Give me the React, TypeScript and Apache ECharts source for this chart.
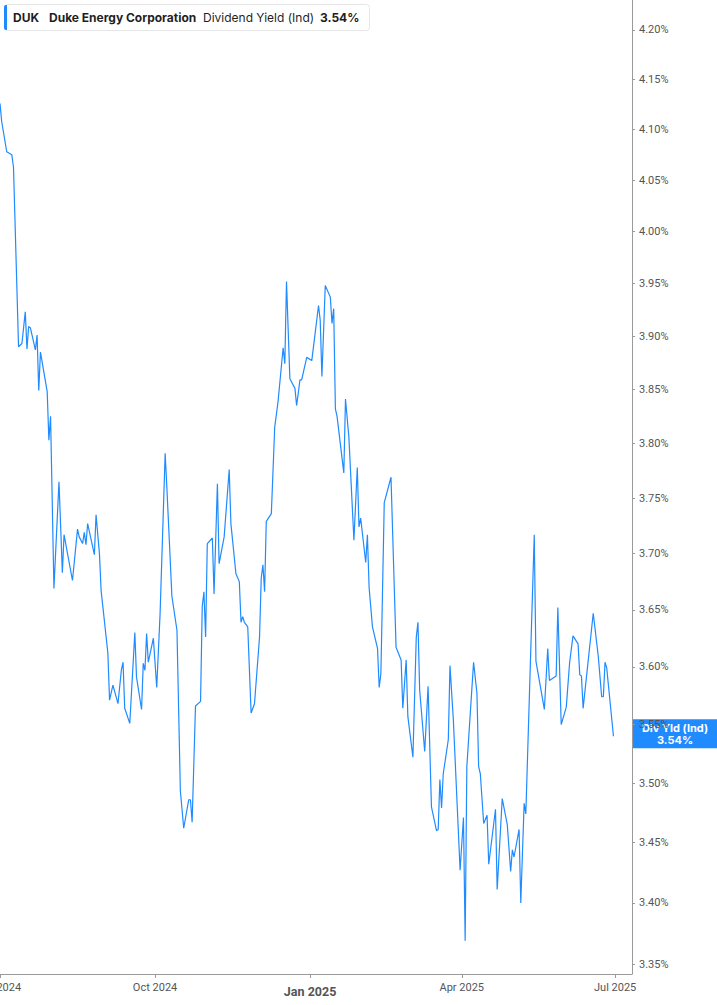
import React, { useEffect, useRef } from "react";
import * as echarts from "echarts";

const dates: string[] = [
  "2024-07-01","2024-07-02","2024-07-05","2024-07-08","2024-07-09","2024-07-12","2024-07-14","2024-07-16","2024-07-17","2024-07-18","2024-07-19","2024-07-22","2024-07-23","2024-07-24","2024-07-25","2024-07-29","2024-07-30","2024-07-31",
  "2024-08-02","2024-08-05","2024-08-07","2024-08-08","2024-08-13","2024-08-16","2024-08-17","2024-08-19","2024-08-20","2024-08-21","2024-08-22","2024-08-26","2024-08-27","2024-08-29","2024-08-30",
  "2024-09-03","2024-09-04","2024-09-06","2024-09-09","2024-09-11","2024-09-12","2024-09-13","2024-09-16","2024-09-19","2024-09-20","2024-09-23","2024-09-24","2024-09-25","2024-09-26","2024-09-27","2024-09-30",
  "2024-10-02","2024-10-04","2024-10-07","2024-10-08","2024-10-11","2024-10-14","2024-10-16","2024-10-18","2024-10-21","2024-10-22","2024-10-23","2024-10-25","2024-10-28","2024-10-29","2024-10-30","2024-10-31",
  "2024-11-01","2024-11-04","2024-11-05","2024-11-07","2024-11-08","2024-11-11","2024-11-14","2024-11-15","2024-11-18","2024-11-20","2024-11-21","2024-11-22","2024-11-23","2024-11-25","2024-11-27","2024-11-29",
  "2024-12-02","2024-12-03","2024-12-04","2024-12-05","2024-12-06","2024-12-09","2024-12-11","2024-12-13","2024-12-16","2024-12-17","2024-12-18","2024-12-20","2024-12-23","2024-12-24","2024-12-26","2024-12-27","2024-12-30",
  "2025-01-02","2025-01-06","2025-01-07","2025-01-08","2025-01-10","2025-01-13","2025-01-14","2025-01-15","2025-01-16","2025-01-17","2025-01-21","2025-01-22","2025-01-24","2025-01-27","2025-01-29","2025-01-30","2025-01-31",
  "2025-02-03","2025-02-04","2025-02-05","2025-02-07","2025-02-10","2025-02-11","2025-02-12","2025-02-14","2025-02-18","2025-02-21","2025-02-24","2025-02-25","2025-02-27","2025-02-28",
  "2025-03-03","2025-03-05","2025-03-06","2025-03-07","2025-03-10","2025-03-12","2025-03-14","2025-03-17","2025-03-18","2025-03-19","2025-03-20","2025-03-21","2025-03-24","2025-03-25","2025-03-27","2025-03-31",
  "2025-04-02","2025-04-03","2025-04-04","2025-04-08","2025-04-10","2025-04-11","2025-04-12","2025-04-14","2025-04-16","2025-04-17","2025-04-21","2025-04-22","2025-04-25","2025-04-28","2025-04-30",
  "2025-05-01","2025-05-02","2025-05-05","2025-05-06","2025-05-08","2025-05-09","2025-05-14","2025-05-15","2025-05-20","2025-05-22","2025-05-23","2025-05-27","2025-05-28","2025-05-30",
  "2025-06-02","2025-06-04","2025-06-06","2025-06-09","2025-06-10","2025-06-11","2025-06-12","2025-06-18","2025-06-21","2025-06-23","2025-06-24","2025-06-25","2025-06-26","2025-06-30",
];

const yields: number[] = [
  4.126,4.108,4.078,4.075,4.063,3.890,3.893,3.923,3.888,3.909,3.908,3.887,3.901,3.849,3.885,3.848,3.803,3.825,
  3.669,3.765,3.683,3.717,3.676,3.722,3.715,3.709,3.719,3.708,3.727,3.699,3.735,3.700,3.667,
  3.612,3.571,3.584,3.568,3.597,3.604,3.564,3.551,3.630,3.591,3.563,3.603,3.597,3.629,3.604,3.625,
  3.582,3.647,3.791,3.760,3.662,3.632,3.494,3.462,3.486,3.486,3.467,3.566,3.570,3.653,3.666,3.626,
  3.709,3.714,3.664,3.763,3.691,3.715,3.776,3.727,3.682,3.675,3.639,3.644,3.639,3.635,3.560,3.568,
  3.626,3.678,3.690,3.666,3.729,3.736,3.815,3.839,3.889,3.874,3.952,3.860,3.851,3.835,3.859,3.859,3.880,
  3.877,3.929,3.915,3.862,3.948,3.937,3.912,3.926,3.832,3.825,3.773,3.841,3.806,3.712,3.778,3.724,3.732,
  3.692,3.717,3.670,3.635,3.616,3.582,3.594,3.746,3.769,3.617,3.606,3.564,3.606,3.557,
  3.522,3.626,3.639,3.580,3.527,3.583,3.480,3.460,3.461,3.503,3.479,3.508,3.537,3.601,3.554,3.427,
  3.471,3.369,3.514,3.604,3.577,3.514,3.508,3.466,3.473,3.432,3.478,3.411,3.487,3.465,3.426,
  3.444,3.438,3.461,3.400,3.483,3.474,3.717,3.605,3.563,3.616,3.588,3.592,3.652,3.550,
  3.565,3.604,3.627,3.620,3.593,3.592,3.564,3.647,3.609,3.574,3.574,3.604,3.599,3.540,
];

const yTicks: number[] = [3.35,3.40,3.45,3.50,3.55,3.60,3.65,3.70,3.75,3.80,3.85,3.90,3.95,4.00,4.05,4.10,4.15,4.20];
const xTickDates: string[] = ["2024-07-01","2024-10-01","2025-01-01","2025-04-01","2025-07-01"];
const xTickLabels: string[] = ["Jul 2024","Oct 2024","Jan 2025","Apr 2025","Jul 2025"];
const boldXLabel = "Jan 2025";
const X_START = "2024-07-01";
const X_END = "2025-07-11";
const Y_MIN = 3.342;
const Y_MAX = 4.2306;

const ticker = "DUK";
const company = "Duke Energy Corporation";
const metric = "Dividend Yield (Ind)";
const lastValueText = "3.54%";
const tagTitle = "Div Yld (Ind)";

const BLUE = "#1f8bff";
const AXIS = "#9a9a9a";
const LABEL = "#555555";
const FONT = "Inter, Roboto, 'Noto Sans', sans-serif";

export default function App() {
  const ref = useRef<HTMLDivElement>(null);
  useEffect(() => {
    document.body.style.margin = "0";
    if (!ref.current) return;
    const chart = echarts.init(ref.current, undefined, { renderer: "svg" });
    const data = dates.map((d, i) => [Date.parse(d), Math.log(yields[i])]);
    const xTicks = xTickDates.map((d) => Date.parse(d));
    const yTickLogs = yTicks.map((v) => Math.log(v));
    const option: any = {
      animation: false,
      grid: { left: 0, right: 85, top: 0, bottom: 31, containLabel: false, outerBoundsMode: "none" },
      xAxis: {
        type: "value",
        min: Date.parse(X_START),
        max: Date.parse(X_END),
        splitLine: { show: false },
        axisLine: { show: true, lineStyle: { color: AXIS, width: 1 } },
        axisTick: { show: true, length: 4, lineStyle: { color: AXIS }, customValues: xTicks },
        axisLabel: {
          customValues: xTicks,
          margin: 8,
          color: LABEL,
          fontSize: 11,
          fontFamily: "Roboto, sans-serif",
          formatter: (v: number) => {
            const i = xTicks.findIndex((t) => Math.abs(t - v) < 1000);
            const s = i >= 0 ? xTickLabels[i] : "";
            return s === boldXLabel ? "{b|" + s + "}" : s;
          },
          rich: {
            b: { fontWeight: "bold", fontSize: 12.5, color: LABEL, fontFamily: "Roboto, sans-serif", padding: [3, 0, 0, 0] },
          },
        },
      },
      yAxis: {
        type: "value",
        position: "right",
        min: Math.log(Y_MIN),
        max: Math.log(Y_MAX),
        splitLine: { show: false },
        axisLine: { show: true, lineStyle: { color: AXIS, width: 1 } },
        axisTick: { show: true, length: 3, lineStyle: { color: AXIS }, customValues: yTickLogs },
        axisLabel: {
          customValues: yTickLogs,
          margin: 7,
          color: LABEL,
          fontSize: 11,
          fontFamily: "Roboto, sans-serif",
          formatter: (v: number) => Math.exp(v).toFixed(2) + "%",
        },
      },
      series: [
        {
          type: "line",
          data,
          symbol: "none",
          showSymbol: false,
          lineStyle: { color: BLUE, width: 1.2 },
        },
      ],
    };
    chart.setOption(option);
    const lastY = chart.convertToPixel({ yAxisIndex: 0 }, Math.log(yields[yields.length - 1])) as number;
    const tagTop = lastY - 17;
    chart.setOption({
      graphic: [
        {
          type: "group",
          children: [
            { type: "rect", shape: { x: 4.5, y: 4.5, width: 365, height: 26, r: 3 }, style: { fill: "#ffffff", stroke: "#e6e6e6", lineWidth: 1 } },
            { type: "rect", shape: { x: 4, y: 5, width: 3, height: 25, r: [2, 0, 0, 2] }, style: { fill: BLUE } },
            { type: "text", style: { text: ticker, x: 13, y: 17.5, verticalAlign: "middle", fill: "#1f1f1f", font: "bold 12px " + FONT } },
            { type: "text", style: { text: company, x: 49, y: 17.5, verticalAlign: "middle", fill: "#1f1f1f", font: "bold 12px " + FONT } },
            { type: "text", style: { text: metric, x: 203, y: 17.5, verticalAlign: "middle", fill: "#1f1f1f", font: "12px " + FONT } },
            { type: "text", style: { text: lastValueText, x: 320, y: 17.5, verticalAlign: "middle", fill: "#1f1f1f", font: "bold 12px " + FONT } },
          ],
        },
        {
          type: "group",
          children: [
            { type: "rect", shape: { x: 633, y: tagTop, width: 84, height: 29 }, style: { fill: BLUE } },
            { type: "text", style: { text: tagTitle, x: 675, y: tagTop + 9, align: "center", verticalAlign: "middle", fill: "#ffffff", font: "bold 11px " + FONT } },
            { type: "text", style: { text: lastValueText, x: 675, y: tagTop + 20.5, align: "center", verticalAlign: "middle", fill: "#ffffff", font: "bold 11px " + FONT } },
          ],
        },
      ],
    });
    return () => chart.dispose();
  }, []);
  return <div ref={ref} style={{ position: "absolute", left: 0, top: 0, width: 717, height: 1005 }} />;
}
